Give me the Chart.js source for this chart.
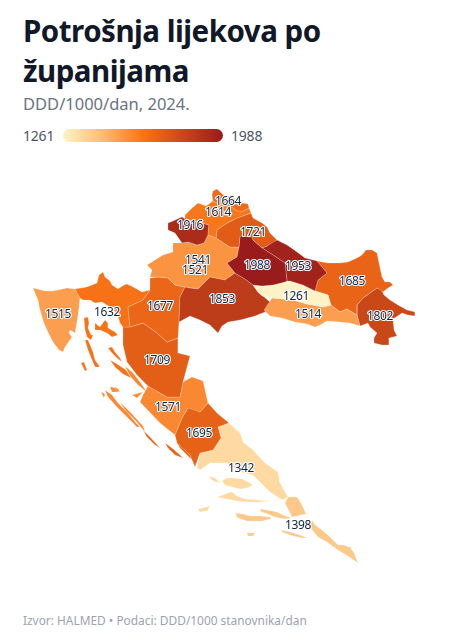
<!DOCTYPE html>
<html lang="hr"><head><meta charset="utf-8">
<script src="https://cdn.jsdelivr.net/npm/chart.js@4/dist/chart.umd.min.js"></script>
<style>
html,body{margin:0;background:#fff;font-family:"Noto Sans",sans-serif}
#page{position:relative;width:474px;height:644px;overflow:hidden}
h1{position:absolute;left:23px;top:11px;margin:0;font-size:29.5px;letter-spacing:-.5px;line-height:40px;font-weight:700;color:#111827;width:400px}
#sub{position:absolute;left:23px;top:93px;font-size:16.5px;line-height:22px;color:#6b7280}
.lg{position:absolute;top:126px;font-size:14px;letter-spacing:-.2px;line-height:20px;color:#4b5563}
#ramp{position:absolute;left:63px;top:129px;width:160px;height:13px;border-radius:7px}
#chartBox{position:absolute;left:0;top:150px;width:474px;height:450px}
#foot{position:absolute;left:23px;top:611px;font-size:11.9px;line-height:18px;color:#9ca3af}
</style></head><body>
<div id="page">
<h1>Potrošnja lijekova po županijama</h1>
<div id="sub">DDD/1000/dan, 2024.</div>
<div class="lg" style="left:23px" id="lgMin"></div><div id="ramp"></div><div class="lg" style="left:231px" id="lgMax"></div>
<div id="chartBox"><canvas id="c"></canvas></div>
<div id="foot">Izvor: HALMED • Podaci: DDD/1000 stanovnika/dan</div>
</div>
<script>
const counties=["Međimurska","Varaždinska","Krapinsko-zagorska","Koprivničko-križevačka","Bjelovarsko-bilogorska","Virovitičko-podravska","Požeško-slavonska","Brodsko-posavska","Osječko-baranjska","Vukovarsko-srijemska","Sisačko-moslavačka","Zagrebačka","Grad Zagreb","Karlovačka","Primorsko-goranska","Istarska","Ličko-senjska","Zadarska","Šibensko-kninska","Splitsko-dalmatinska","Dubrovačko-neretvanska"];
const values=[1664,1614,1916,1721,1988,1953,1261,1514,1685,1802,1853,1541,1521,1677,1632,1515,1709,1571,1695,1342,1398];
const labelX=[228,218,190,253,257,298,296,308,352,380,222,198,195,160,107,58,157,168,199,241,298];
const labelY=[202,213,226,233,266,267,297,315,282,317,300,261,271,307,313,315,361,408,434,469,526];
const rampStops=[0,0.25,0.5,1];
const rampColors=["#fef3c7","#fdba74","#f97316","#991b1b"];
const shapes=[
[[[212,195],[213,191],[217,189],[221,193],[225,196],[230,196],[237,200],[242,203],[248,204],[249,208],[243,211],[237,211],[232,207],[225,206],[217,203],[213,201]]],
[[[185,215],[191,209],[198,203],[206,206],[213,201],[217,203],[225,206],[232,207],[237,211],[243,211],[249,208],[251,213],[237,218],[227,223],[217,230],[216,238],[208,235],[209,225],[202,223],[185,219]]],
[[[168,223],[173,221],[182,217],[185,219],[202,223],[209,225],[208,235],[204,243],[197,245],[188,242],[182,243],[175,233],[168,230]]],
[[[216,238],[217,230],[227,223],[237,218],[251,213],[253,218],[262,223],[267,227],[270,233],[277,240],[267,246],[262,248],[253,240],[252,237],[240,236],[239,247],[230,247]]],
[[[240,236],[252,237],[253,240],[262,248],[273,255],[285,263],[287,281],[285,282],[273,285],[262,286],[253,285],[245,279],[235,273],[227,263],[237,257],[239,247]]],
[[[262,248],[267,246],[272,242],[277,240],[287,245],[297,252],[305,258],[317,261],[327,273],[318,280],[315,291],[303,285],[290,281],[287,281],[285,263],[273,255]]],
[[[253,285],[262,286],[273,285],[285,282],[290,281],[303,285],[315,291],[328,295],[331,305],[323,307],[307,304],[293,300],[273,298],[267,297],[262,296],[258,292]]],
[[[272,298],[293,300],[307,304],[323,307],[331,305],[340,312],[347,309],[357,315],[360,326],[350,323],[340,322],[327,321],[320,325],[315,327],[307,324],[295,322],[282,318],[270,316],[264,310]]],
[[[317,261],[328,263],[340,263],[348,262],[357,258],[362,255],[366,250],[372,250],[377,253],[379,263],[382,277],[385,282],[390,282],[393,285],[388,288],[383,292],[377,288],[363,298],[357,305],[357,315],[347,309],[340,312],[331,305],[328,295],[315,291],[318,280],[327,273]]],
[[[377,288],[381,289],[384,295],[390,300],[398,305],[407,310],[415,312],[415,316],[408,315],[402,313],[393,319],[394,330],[397,336],[389,338],[389,345],[382,345],[374,343],[374,338],[377,333],[370,327],[368,323],[360,326],[357,315],[357,305],[363,298]]],
[[[185,287],[190,288],[198,289],[210,277],[225,280],[235,273],[245,279],[253,285],[258,292],[263,296],[270,302],[267,308],[265,312],[255,316],[240,320],[228,322],[222,326],[218,333],[210,325],[200,320],[190,316],[179,322],[180,297]]],
[[[173,243],[182,243],[188,242],[197,245],[204,243],[208,235],[216,238],[230,247],[239,247],[237,257],[227,263],[235,273],[225,280],[210,277],[198,289],[190,288],[185,287],[175,285],[168,278],[158,277],[150,277],[152,270],[147,265],[163,255],[173,252]]],
[[[183,257],[188,252],[197,255],[205,260],[207,275],[197,277],[188,275],[180,268]]],
[[[150,278],[158,277],[168,278],[175,285],[185,287],[180,297],[179,322],[178,338],[167,342],[157,333],[143,323],[130,327],[128,307],[143,300],[150,290]]],
[[[75,289],[87,287],[97,283],[99,275],[103,272],[105,277],[110,281],[112,285],[118,289],[124,285],[127,284],[135,288],[142,292],[150,290],[143,300],[128,307],[130,327],[123,327],[120,323],[117,313],[110,307],[102,302],[95,303],[90,300],[83,300],[80,298]],
 [[95,323],[100,327],[105,320],[108,323],[108,328],[115,332],[118,335],[112,337],[107,333],[100,330],[95,330]],
 [[84,318],[88,317],[89,323],[88,328],[91,335],[93,335],[91,340],[87,337],[85,330]],
 [[85,340],[88,340],[93,352],[95,360],[100,367],[95,367],[92,360],[88,350]],
 [[108,348],[112,347],[115,352],[120,358],[122,362],[117,358],[112,353]],
 [[81,363],[84,362],[87,370],[85,371]],
 [[110,360],[117,364],[126,370],[131,378],[123,374],[115,367]]],
[[[33,288],[37,289],[45,291],[53,291],[67,288],[75,289],[80,297],[79,308],[77,322],[75,333],[70,330],[69,333],[72,337],[65,347],[63,352],[59,350],[53,342],[47,330],[44,323],[40,310],[38,300],[35,293]]],
[[[123,327],[130,327],[143,323],[157,333],[167,342],[178,338],[178,353],[190,356],[183,382],[180,397],[167,397],[148,386],[137,375],[127,362],[123,345]]],
[[[148,386],[167,397],[180,397],[183,382],[192,377],[203,381],[208,403],[200,412],[188,408],[182,418],[175,435],[160,423],[140,402],[143,395]],
 [[125,366],[133,373],[140,382],[147,392],[138,385],[130,376]],
 [[105,390],[112,395],[118,403],[128,413],[135,422],[140,427],[137,427],[127,417],[117,407],[108,397]],
 [[115,387],[118,389],[120,392],[116,391]],
 [[120,402],[130,412],[143,426],[145,432],[136,421],[125,410]],
 [[132,395],[143,392],[137,398]],
 [[110,387],[117,388],[118,392],[112,392]],
 [[101,392],[105,394],[104,398]]],
[[[192,407],[200,412],[208,403],[217,413],[229,423],[218,427],[221,438],[213,450],[200,453],[195,467],[190,455],[177,443],[175,435],[182,418],[188,408]],
 [[143,430],[150,437],[160,448],[165,451],[155,445],[147,437]],
 [[165,443],[172,448],[180,455],[183,458],[175,455],[168,448]],
 [[177,443],[183,448],[190,455],[192,460],[185,453],[180,448]]],
[[[229,423],[240,433],[243,442],[253,450],[265,463],[278,472],[280,483],[288,497],[282,500],[270,492],[253,475],[240,472],[227,463],[210,463],[200,470],[197,468],[200,453],[213,450],[221,438],[218,427]],
 [[222,481],[227,478],[233,478],[242,479],[248,482],[253,485],[247,488],[240,489],[232,487],[225,485]],
 [[217,497],[223,495],[228,493],[232,492],[237,496],[245,499],[258,500],[271,501],[258,502],[247,502],[237,501],[227,499]],
 [[198,509],[210,506],[207,511],[200,512]],
 [[208,476],[215,478],[220,483],[213,481]]],
[[[288,497],[297,497],[302,505],[306,514],[292,517],[285,503]],
 [[312,520],[315,525],[322,530],[330,537],[338,545],[343,545],[350,547],[354,553],[358,563],[348,556],[338,550],[327,542],[318,537],[310,527]],
 [[260,509],[267,510],[277,512],[285,516],[292,518],[285,519],[275,517],[265,513],[261,512]],
 [[235,513],[243,514],[250,516],[260,516],[270,517],[271,519],[262,521],[247,521],[238,518]],
 [[281,530],[290,532],[300,535],[307,538],[302,538],[290,535],[282,532]],
 [[247,533],[250,533],[255,533],[253,536],[248,536]]]
];
const hex=h=>[1,3,5].map(i=>parseInt(h.substr(i,2),16));
function colorFor(v){
  const lo=Math.min(...values),hi=Math.max(...values),t=(v-lo)/(hi-lo);
  let i=0; while(i<rampStops.length-2&&t>rampStops[i+1])i++;
  const f=(t-rampStops[i])/(rampStops[i+1]-rampStops[i]),a=hex(rampColors[i]),b=hex(rampColors[i+1]);
  return "rgb("+a.map((c,k)=>Math.round(c+(b[k]-c)*f)).join(",")+")";
}
document.getElementById("lgMin").textContent=Math.min(...values);
document.getElementById("lgMax").textContent=Math.max(...values);
document.getElementById("ramp").style.background="linear-gradient(to right,"+rampColors.map((c,i)=>c+" "+rampStops[i]*100+"%").join(",")+")";
const datasets=[];
shapes.forEach((rings,i)=>rings.forEach(r=>{
  const col=colorFor(values[i]);
  datasets.push({label:counties[i],data:r.concat([r[0]]).map(p=>({x:p[0],y:p[1]})),showLine:true,fill:"shape",backgroundColor:col,borderColor:"rgba(255,255,255,.35)",borderWidth:.6,pointRadius:0,pointHoverRadius:0,tension:0});
}));
const valueLabels={id:"valueLabels",afterDatasetsDraw(ch){
  const c=ch.ctx;c.save();c.font='12px "Noto Sans"';c.letterSpacing="-0.35px";c.textAlign="center";c.textBaseline="middle";c.lineJoin="round";
  values.forEach((v,i)=>{
    const x=ch.scales.x.getPixelForValue(labelX[i]),y=ch.scales.y.getPixelForValue(labelY[i]);
    c.lineWidth=2.2;c.strokeStyle="#fff";c.strokeText(v,x,y);c.fillStyle="#0f2547";c.fillText(v,x,y);
  });c.restore();
}};
new Chart(document.getElementById("c"),{type:"scatter",data:{datasets},plugins:[valueLabels],options:{
  responsive:true,maintainAspectRatio:false,animation:false,layout:{padding:0},
  plugins:{legend:{display:false},tooltip:{enabled:false}},
  scales:{x:{type:"linear",min:0,max:474,display:false},y:{type:"linear",min:150,max:600,reverse:true,display:false}}
}});
</script></body></html>
